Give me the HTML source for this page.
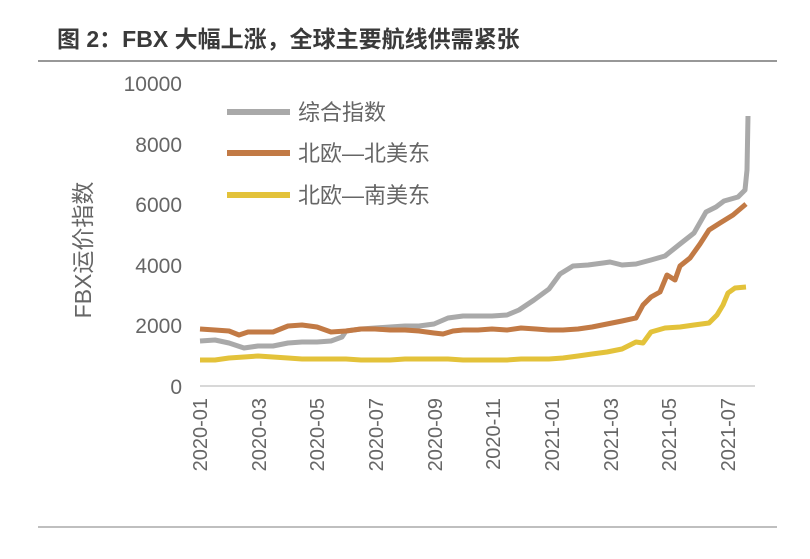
<!DOCTYPE html>
<html><head><meta charset="utf-8"><style>
body{margin:0;background:#fff;}
svg{display:block;font-family:"Liberation Sans","Noto Sans CJK SC",sans-serif;}
</style></head><body>
<svg width="810" height="559" viewBox="0 0 810 559">
<rect width="810" height="559" fill="#fff"/>
<text x="57" y="47" font-size="23" font-weight="bold" fill="#3a3a3a">图 2：FBX 大幅上涨，全球主要航线供需紧张</text>
<line x1="38" y1="61" x2="777" y2="61" stroke="#777" stroke-width="1.5"/>
<line x1="38" y1="527" x2="777" y2="527" stroke="#999" stroke-width="1.2"/>
<g font-size="21" fill="#666" text-anchor="end">
<text x="182" y="91">10000</text>
<text x="182" y="152">8000</text>
<text x="182" y="212">6000</text>
<text x="182" y="273">4000</text>
<text x="182" y="333">2000</text>
<text x="182" y="394">0</text>
</g>
<text transform="translate(91,250) rotate(-90)" font-size="23" fill="#666" text-anchor="middle">FBX运价指数</text>
<line x1="200" y1="386" x2="755" y2="386" stroke="#ccc" stroke-width="1.5"/>
<g font-size="20" fill="#666" text-anchor="end">
<text transform="translate(207,398) rotate(-90)">2020-01</text>
<text transform="translate(266,398) rotate(-90)">2020-03</text>
<text transform="translate(324,398) rotate(-90)">2020-05</text>
<text transform="translate(383,398) rotate(-90)">2020-07</text>
<text transform="translate(442,398) rotate(-90)">2020-09</text>
<text transform="translate(500,398) rotate(-90)">2020-11</text>
<text transform="translate(559,398) rotate(-90)">2021-01</text>
<text transform="translate(618,398) rotate(-90)">2021-03</text>
<text transform="translate(676,398) rotate(-90)">2021-05</text>
<text transform="translate(735,398) rotate(-90)">2021-07</text>
</g>
<g fill="none" stroke-width="5" stroke-linejoin="round">
<polyline stroke="#a9a9a9" points="200,341 215,340 229,343 244,348 258,346 273,346 288,343 302,342 317,342 331,341 342,337 346,331 361,329 375,328 390,327 405,326 419,326 434,324 448,318 463,316 478,316 492,316 507,315 519,310 534,300 549,289 560,274 573,266 588,265 603,263 610,262 622,265 636,264 651,260 665,256 680,244 694,233 706,212 716,207 724,201 738,197 745,190 747,170 748,116"/>
<polyline stroke="#c27a45" points="200,329 215,330 229,331 239,335 248,332 258,332 273,332 288,326 302,325 317,327 331,332 346,331 361,329 375,329 390,330 405,330 419,331 434,333 443,334 453,331 463,330 478,330 492,329 507,330 521,328 536,329 549,330 563,330 578,329 592,327 607,324 622,321 636,318 643,305 651,297 660,292 667,275 675,280 680,266 690,258 700,244 709,230 720,223 733,215 746,204"/>
<polyline stroke="#e3c23a" points="200,360 215,360 229,358 244,357 258,356 273,357 288,358 302,359 317,359 331,359 346,359 361,360 375,360 390,360 405,359 419,359 434,359 448,359 463,360 478,360 492,360 507,360 521,359 536,359 549,359 563,358 578,356 592,354 607,352 622,349 630,345 636,342 643,343 651,332 665,328 680,327 694,325 709,323 717,315 723,305 728,293 735,288 746,287"/>
</g>
<g stroke-width="6">
<line x1="227" y1="112" x2="290" y2="112" stroke="#a9a9a9"/>
<line x1="227" y1="153" x2="290" y2="153" stroke="#c27a45"/>
<line x1="227" y1="195" x2="290" y2="195" stroke="#e3c23a"/>
</g>
<g font-size="22" fill="#666">
<text x="298" y="120">综合指数</text>
<text x="298" y="161">北欧—北美东</text>
<text x="298" y="203">北欧—南美东</text>
</g>
</svg>
</body></html>
